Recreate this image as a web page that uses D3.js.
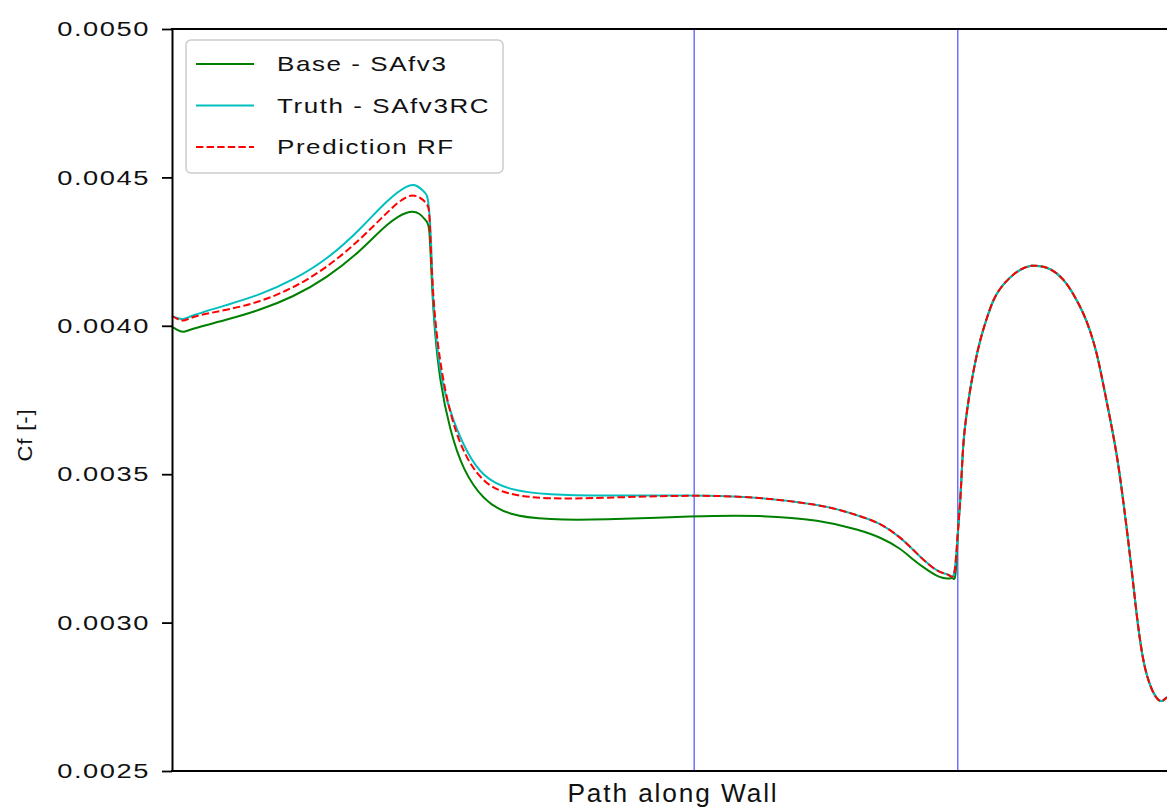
<!DOCTYPE html>
<html>
<head>
<meta charset="utf-8">
<script src="https://cdn.jsdelivr.net/npm/d3@7"></script>
<style>
  body { margin: 0; background: #fff; }
  svg { display: block; font-family: 'Liberation Sans', Arial, sans-serif; }
</style>
</head>
<body>
<svg id="chart"></svg>
<script>
// position along the wall (0 = start) and skin friction
const baseS = [0, 0.005, 0.011, 0.018, 0.054, 0.087, 0.120, 0.153, 0.186, 0.213, 0.234, 0.246, 0.252, 0.255,
  0.257, 0.260, 0.265, 0.275, 0.288, 0.308, 0.332, 0.374, 0.424, 0.517, 0.582, 0.642, 0.681, 0.701, 0.721,
  0.734, 0.746, 0.760, 0.770, 0.773, 0.776, 0.778, 0.7802, 0.7819, 0.7835, 0.7868, 0.7901, 0.7950, 0.8000,
  0.8067, 0.8129, 0.8198, 0.8297, 0.8396, 0.8515, 0.8594, 0.8693, 0.8822, 0.8921, 0.9020, 0.9089, 0.9158,
  0.9218, 0.9287, 0.9356, 0.9406, 0.9455, 0.9505, 0.9554, 0.9604, 0.9653, 0.9713, 0.9762, 0.9802, 0.9851]
const baseCf = [0.003996, 0.003986, 0.003976, 0.003989, 0.004020, 0.004053, 0.004097, 0.004161, 0.004249,
  0.004346, 0.004390, 0.004380, 0.004350, 0.004346, 0.004154, 0.003986, 0.003817, 0.003649, 0.003514,
  0.003413, 0.003362, 0.003346, 0.003346, 0.003359, 0.003362, 0.003346, 0.003312, 0.003288, 0.003251,
  0.003211, 0.003181, 0.003150, 0.003147, 0.003154, 0.003133, 0.003312, 0.003390, 0.003504, 0.003615,
  0.003706, 0.003784, 0.003875, 0.003952, 0.004026, 0.004087, 0.004127, 0.004164, 0.004191, 0.004205,
  0.004201, 0.004195, 0.004161, 0.004110, 0.004047, 0.003986, 0.003908, 0.003807, 0.003690, 0.003565,
  0.003443, 0.003312, 0.003170, 0.003015, 0.002891, 0.002817, 0.002763, 0.002739, 0.002732, 0.002749]

const truthS = [0, 0.005, 0.011, 0.018, 0.054, 0.087, 0.120, 0.153, 0.186, 0.213, 0.234, 0.243, 0.251, 0.254,
  0.257, 0.258, 0.262, 0.268, 0.278, 0.292, 0.308, 0.332, 0.374, 0.424, 0.517, 0.582, 0.642, 0.662, 0.681,
  0.701, 0.721, 0.734, 0.746, 0.760, 0.770, 0.775, 0.778, 0.7802, 0.7819, 0.7835, 0.7868, 0.7901, 0.7950,
  0.8000, 0.8067, 0.8129, 0.8198, 0.8297, 0.8396, 0.8515, 0.8594, 0.8693, 0.8822, 0.8921, 0.9020, 0.9089,
  0.9158, 0.9218, 0.9287, 0.9356, 0.9406, 0.9455, 0.9505, 0.9554, 0.9604, 0.9653, 0.9713, 0.9762, 0.9802,
  0.9851]
const truthCf = [0.004033, 0.004026, 0.004020, 0.004033, 0.004070, 0.004104, 0.004154, 0.004222, 0.004323,
  0.004424, 0.004478, 0.004474, 0.004447, 0.004434, 0.004266, 0.004097, 0.003929, 0.003794, 0.003683,
  0.003571, 0.003491, 0.003447, 0.003430, 0.003427, 0.003430, 0.003423, 0.003396, 0.003379, 0.003359,
  0.003336, 0.003288, 0.003245, 0.003204, 0.003167, 0.003164, 0.003137, 0.003312, 0.003390, 0.003504,
  0.003615, 0.003706, 0.003784, 0.003875, 0.003952, 0.004026, 0.004087, 0.004127, 0.004164, 0.004191,
  0.004205, 0.004201, 0.004195, 0.004161, 0.004110, 0.004047, 0.003986, 0.003908, 0.003807, 0.003690,
  0.003565, 0.003443, 0.003312, 0.003170, 0.003015, 0.002891, 0.002817, 0.002763, 0.002739, 0.002732,
  0.002749]

const predS = [0, 0.005, 0.011, 0.021, 0.054, 0.087, 0.120, 0.153, 0.186, 0.213, 0.234, 0.246, 0.254, 0.255,
  0.258, 0.265, 0.275, 0.288, 0.308, 0.332, 0.374, 0.424, 0.517, 0.582, 0.642, 0.662, 0.681, 0.701, 0.721,
  0.734, 0.746, 0.760, 0.770, 0.775, 0.778, 0.7802, 0.7819, 0.7835, 0.7868, 0.7901, 0.7950, 0.8000, 0.8067,
  0.8129, 0.8198, 0.8297, 0.8396, 0.8515, 0.8594, 0.8693, 0.8822, 0.8921, 0.9020, 0.9089, 0.9158, 0.9218,
  0.9287, 0.9356, 0.9406, 0.9455, 0.9505, 0.9554, 0.9604, 0.9653, 0.9713, 0.9762, 0.9802, 0.9851]
const predCf = [0.004033, 0.004023, 0.004013, 0.004033, 0.004053, 0.004080, 0.004127, 0.004195, 0.004289,
  0.004383, 0.004447, 0.004434, 0.004407, 0.004380, 0.004097, 0.003875, 0.003706, 0.003571, 0.003470,
  0.003430, 0.003416, 0.003420, 0.003430, 0.003423, 0.003396, 0.003379, 0.003359, 0.003336, 0.003288,
  0.003245, 0.003204, 0.003167, 0.003164, 0.003137, 0.003312, 0.003390, 0.003504, 0.003615, 0.003706,
  0.003784, 0.003875, 0.003952, 0.004026, 0.004087, 0.004127, 0.004164, 0.004191, 0.004205, 0.004201,
  0.004195, 0.004161, 0.004110, 0.004047, 0.003986, 0.003908, 0.003807, 0.003690, 0.003565, 0.003443,
  0.003312, 0.003170, 0.003015, 0.002891, 0.002817, 0.002763, 0.002739, 0.002732, 0.002749]

const sectionBreaks = [0.517, 0.778]
const yTicks = [0.0025, 0.0030, 0.0035, 0.0040, 0.0045, 0.0050]
const seriesNames = ['Base - SAfv3', 'Truth - SAfv3RC', 'Prediction RF']

const width = 1167
const height = 807
const plot = { left: 172, right: 1182, top: 29, bottom: 771 }
const stretch = 1.3

const svg = d3.select('#chart')
  .attr('width', width)
  .attr('height', height)
  .attr('viewBox', `0 0 ${width} ${height}`)

const xScale = d3.scaleLinear()
  .domain([0, 1])
  .range([plot.left, plot.right])

const yScale = d3.scaleLinear()
  .domain([0.0025, 0.0050])
  .range([plot.bottom, plot.top])


// SECTION MARKERS
svg.append('g')
  .selectAll('line')
  .data(sectionBreaks)
  .enter().append('line')
  .attr('x1', d => xScale(d))
  .attr('x2', d => xScale(d))
  .attr('y1', plot.top)
  .attr('y2', plot.bottom)
  .attr('stroke', '#0000ff')
  .attr('stroke-opacity', 0.65)
  .attr('stroke-width', 1.3)


// CURVES
const line = d3.line()
  .curve(d3.curveBasis)
  .x(d => xScale(d[0]))
  .y(d => yScale(d[1]))

const series = [
  { name: seriesNames[0], values: d3.zip(baseS, baseCf), color: '#008000', dash: null },
  { name: seriesNames[1], values: d3.zip(truthS, truthCf), color: '#00bfbf', dash: null },
  { name: seriesNames[2], values: d3.zip(predS, predCf), color: '#ff0000', dash: '7.4 3.2' }
]

svg.append('g')
  .selectAll('path')
  .data(series)
  .enter().append('path')
  .attr('d', d => line(d.values))
  .attr('fill', 'none')
  .attr('stroke', d => d.color)
  .attr('stroke-width', 2)
  .attr('stroke-dasharray', d => d.dash)


// AXES
const yAxis = d3.axisLeft(yScale)
  .tickValues(yTicks)
  .tickSizeInner(10)
  .tickSizeOuter(0)
  .tickFormat(d3.format('.4f'))

const yAxisG = svg.append('g')
  .attr('transform', `translate(${plot.left} 0)`)
  .call(yAxis)
  .attr('font-size', null)
  .attr('font-family', null)

yAxisG.select('.domain')
  .attr('stroke', '#000')
  .attr('stroke-width', 2)
yAxisG.selectAll('.tick line')
  .attr('stroke', '#000')
  .attr('stroke-width', 1.8)
yAxisG.selectAll('.tick text')
  .attr('x', 0)
  .attr('fill', '#111')
  .attr('font-size', 21)
  .attr('letter-spacing', 1.2)
  .attr('transform', `translate(-22 0) scale(${stretch} 1)`)

// top and bottom spines
svg.append('g')
  .selectAll('line')
  .data([plot.top, plot.bottom])
  .enter().append('line')
  .attr('x1', plot.left - 1)
  .attr('x2', plot.right)
  .attr('y1', d => d)
  .attr('y2', d => d)
  .attr('stroke', '#000')
  .attr('stroke-width', 2)

svg.append('text')
  .attr('transform', 'translate(673 802) scale(1.05 1)')
  .attr('text-anchor', 'middle')
  .attr('font-size', 25)
  .attr('letter-spacing', 1.8)
  .attr('fill', '#111')
  .text('Path along Wall')

svg.append('text')
  .attr('transform', 'translate(32 435) rotate(-90) scale(1.1 1)')
  .attr('text-anchor', 'middle')
  .attr('font-size', 20)
  .attr('letter-spacing', 0.8)
  .attr('fill', '#111')
  .text('Cf [-]')


// LEGEND
const legend = svg.append('g')
  .attr('transform', 'translate(186 40)')

legend.append('rect')
  .attr('width', 317)
  .attr('height', 133)
  .attr('rx', 5)
  .attr('fill', '#fff')
  .attr('fill-opacity', 0.8)
  .attr('stroke', '#cccccc')
  .attr('stroke-width', 1.5)

const legendItem = legend.selectAll('.legend-item')
  .data(series)
  .enter().append('g')
  .attr('class', 'legend-item')
  .attr('transform', (d, i) => `translate(0 ${24 + i * 41.5})`)

legendItem.append('line')
  .attr('x1', 10)
  .attr('x2', 68)
  .attr('stroke', d => d.color)
  .attr('stroke-width', 2)
  .attr('stroke-dasharray', d => d.dash)

legendItem.append('text')
  .attr('transform', `translate(91 0) scale(${stretch} 1)`)
  .attr('dy', '0.35em')
  .attr('font-size', 20)
  .attr('letter-spacing', 1.2)
  .attr('fill', '#111')
  .text(d => d.name)
</script>
</body>
</html>
